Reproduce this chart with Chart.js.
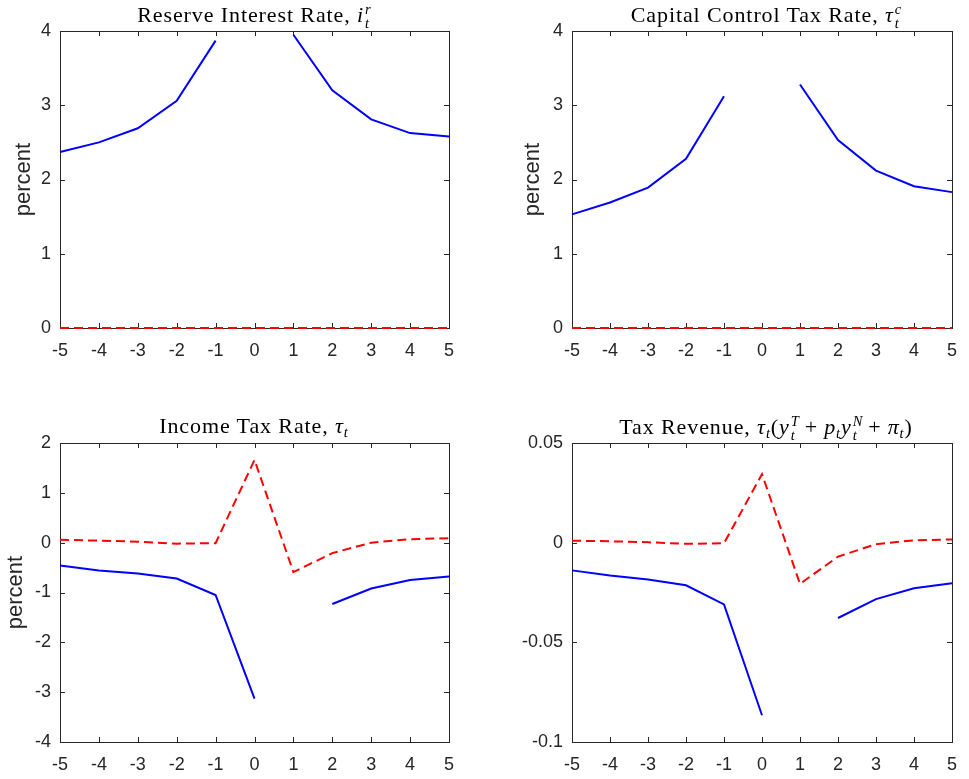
<!DOCTYPE html>
<html>
<head>
<meta charset="utf-8">
<script src="https://cdn.jsdelivr.net/npm/chart.js@4"></script>
<style>
  body { margin: 0; background: #fff; width: 969px; height: 779px; position: relative; overflow: hidden; }
  canvas { position: absolute; }
  .ttl {
    position: absolute; transform: translateX(-50%); white-space: nowrap;
    font-family: "Liberation Serif", "DejaVu Serif", serif; font-size: 22px; letter-spacing: 0.9px;
    line-height: 1; color: #000;
  }
  .m { font-style: italic; }
  .ss { display: inline-block; vertical-align: -0.42em; font-size: 0.66em; line-height: 0.95; margin-left: 1px; letter-spacing: 0; }
  .ss span { display: block; }
  .sb { font-size: 0.66em; vertical-align: -0.3em; font-style: italic; }
  .op { margin: 0 6px; }
</style>
</head>
<body>
<canvas id="c1" width="470" height="360" style="left:0;top:0"></canvas>
<canvas id="c2" width="479" height="360" style="left:490px;top:0"></canvas>
<canvas id="c3" width="470" height="379" style="left:0;top:400px"></canvas>
<canvas id="c4" width="479" height="379" style="left:490px;top:400px"></canvas>

<div class="ttl" style="left:254px;top:3px">Reserve Interest Rate, <span class="m">i</span><span class="ss"><span class="m">r</span><span class="m">t</span></span></div>
<div class="ttl" style="left:766px;top:3px">Capital Control Tax Rate, <span class="m">τ</span><span class="ss"><span class="m">c</span><span class="m">t</span></span></div>
<div class="ttl" style="left:254px;top:415px">Income Tax Rate, <span class="m">τ</span><span class="sb">t</span></div>
<div class="ttl" style="left:766px;top:415px">Tax Revenue, <span class="m">τ</span><span class="sb">t</span>(<span class="m">y</span><span class="ss"><span class="m">T</span><span class="m">t</span></span><span class="op">+</span><span class="m">p</span><span class="sb">t</span><span class="m">y</span><span class="ss"><span class="m">N</span><span class="m">t</span></span><span class="op">+</span><span class="m">π</span><span class="sb">t</span>)</div>

<script>
// horizon, periods relative to the crisis
const periods = [-5, -4, -3, -2, -1, 0, 1, 2, 3, 4, 5];

// solid blue: optimal policy, dashed red: benchmark (null = no value)
const reserveRateBlue = [2.37, 2.50, 2.69, 3.06, 3.87, null, 3.95, 3.20, 2.81, 2.625, 2.58];
const reserveRateRed  = [0, 0, 0, 0, 0, 0, 0, 0, 0, 0, 0];

const capControlBlue = [1.53, 1.69, 1.89, 2.28, 3.12, null, 3.28, 2.53, 2.12, 1.91, 1.83];
const capControlRed  = [0, 0, 0, 0, 0, 0, 0, 0, 0, 0, 0];

const incomeTaxBlue = [-0.46, -0.56, -0.62, -0.72, -1.05, -3.13, null, -1.23, -0.92, -0.75, -0.68];
const incomeTaxRed  = [0.06, 0.04, 0.02, -0.02, -0.01, 1.66, -0.59, -0.21, 0.0, 0.07, 0.09];

const revenueBlue = [-0.0139, -0.0165, -0.0185, -0.0214, -0.031, -0.0866, null, -0.0378, -0.0283, -0.0229, -0.0204];
const revenueRed  = [0.001, 0.0007, 0.0002, -0.0006, -0.0003, 0.0344, -0.0207, -0.007, -0.0008, 0.0012, 0.0016];

// y tick labels for each panel
const rateTicks    = [0, 1, 2, 3, 4];
const incomeTicks  = [-4, -3, -2, -1, 0, 1, 2];
const revenueTicks = [-0.1, -0.05, 0, 0.05];

const AXIS_COLOR = '#262626';
const SANS = '"Liberation Sans", Arial, Helvetica, sans-serif';

// MATLAB style box with inward tick marks on all four sides
const matlabFrame = {
    id: 'matlabFrame',
    beforeDatasetsDraw(chart) {
        const { ctx, chartArea: a, scales: { x, y } } = chart;
        const len = 5;
        ctx.save();
        ctx.strokeStyle = AXIS_COLOR;
        ctx.lineWidth = 1;
        ctx.beginPath();
        x.ticks.forEach(t => {
            const px = Math.round(x.getPixelForValue(t.value)) + 0.5;
            ctx.moveTo(px, a.bottom); ctx.lineTo(px, a.bottom - len);
            ctx.moveTo(px, a.top); ctx.lineTo(px, a.top + len);
        });
        y.ticks.forEach(t => {
            const py = Math.round(y.getPixelForValue(t.value)) + 0.5;
            ctx.moveTo(a.left, py); ctx.lineTo(a.left + len, py);
            ctx.moveTo(a.right, py); ctx.lineTo(a.right - len, py);
        });
        ctx.stroke();
        ctx.strokeRect(a.left + 0.5, a.top + 0.5, a.right - a.left, a.bottom - a.top);
        ctx.restore();
    }
};

const toPoints = arr => periods.map((p, i) => ({ x: p, y: arr[i] }));

function makePanel(id, opts) {
    const { blue, red, yTicks, yLabel, yTitlePad, axisW, top, right, axisH } = opts;
    return new Chart(document.getElementById(id), {
        type: 'line',
        data: {
            datasets: [
                { data: toPoints(blue), borderColor: '#0000ff', borderWidth: 2, pointRadius: 0, tension: 0, spanGaps: false, clip: 3 },
                { data: toPoints(red), borderColor: '#ff0000', borderWidth: 2, borderDash: [9, 5], pointRadius: 0, tension: 0, spanGaps: false, clip: 3 }
            ]
        },
        options: {
            responsive: false,
            animation: false,
            events: [],
            layout: { padding: { top: top, right: right, left: 0, bottom: 0 } },
            plugins: { legend: { display: false }, tooltip: { enabled: false } },
            scales: {
                x: {
                    type: 'linear',
                    min: -5,
                    max: 5,
                    afterBuildTicks: s => { s.ticks = periods.map(v => ({ value: v })); },
                    afterFit: s => { s.height = axisH; },
                    grid: { display: false, drawTicks: false },
                    border: { display: false },
                    ticks: {
                        color: AXIS_COLOR,
                        font: { family: SANS, size: 18 },
                        padding: 12,
                        maxRotation: 0,
                        autoSkip: false
                    }
                },
                y: {
                    type: 'linear',
                    min: yTicks[0],
                    max: yTicks[yTicks.length - 1],
                    afterBuildTicks: s => { s.ticks = yTicks.map(v => ({ value: v })); },
                    afterFit: s => { s.width = axisW; },
                    grid: { display: false, drawTicks: false },
                    border: { display: false },
                    ticks: {
                        color: AXIS_COLOR,
                        font: { family: SANS, size: 18 },
                        padding: 9,
                        callback: v => String(v)
                    },
                    title: {
                        display: !!yLabel,
                        text: yLabel || '',
                        color: AXIS_COLOR,
                        font: { family: SANS, size: 22 },
                        padding: { top: yTitlePad, bottom: 0 }
                    }
                }
            }
        },
        plugins: [matlabFrame]
    });
}

makePanel('c1', { blue: reserveRateBlue, red: reserveRateRed, yTicks: rateTicks, yLabel: 'percent', yTitlePad: 11, axisW: 60, top: 31, right: 21, axisH: 32 });
makePanel('c2', { blue: capControlBlue, red: capControlRed, yTicks: rateTicks, yLabel: 'percent', yTitlePad: 30, axisW: 82, top: 31, right: 8, axisH: 32 });
makePanel('c3', { blue: incomeTaxBlue, red: incomeTaxRed, yTicks: incomeTicks, yLabel: 'percent', yTitlePad: 3, axisW: 60, top: 43, right: 21, axisH: 37 });
makePanel('c4', { blue: revenueBlue, red: revenueRed, yTicks: revenueTicks, yLabel: '', yTitlePad: 0, axisW: 82, top: 43, right: 8, axisH: 37 });
</script>
</body>
</html>
